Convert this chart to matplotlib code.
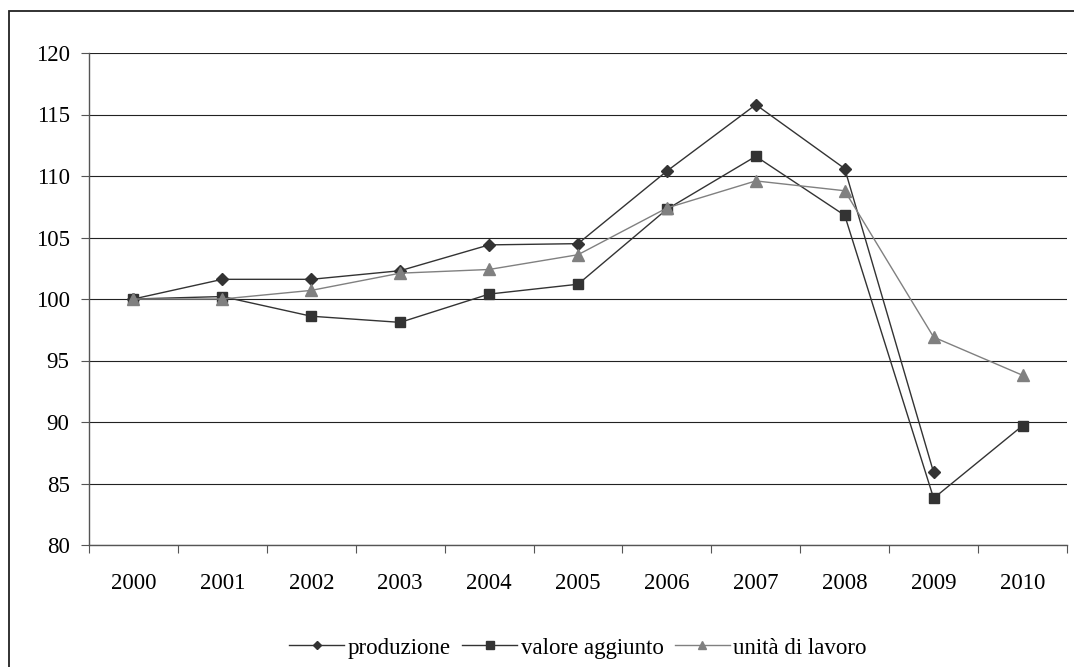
import numpy as np
import matplotlib
matplotlib.use("Agg")
import matplotlib.pyplot as plt
from matplotlib.patches import Rectangle

years = ["2000", "2001", "2002", "2003", "2004", "2005",
         "2006", "2007", "2008", "2009", "2010"]
produzione = [100.0, 101.6, 101.6, 102.3, 104.4, 104.5,
              110.4, 115.8, 110.6, 85.9, np.nan]
valore_aggiunto = [100.0, 100.2, 98.6, 98.1, 100.4, 101.2,
                   107.3, 111.6, 106.8, 83.8, 89.7]
unita_lavoro = [100.0, 100.0, 100.7, 102.1, 102.4, 103.6,
                107.4, 109.6, 108.8, 96.9, 93.8]
y_ticks = [80, 85, 90, 95, 100, 105, 110, 115, 120]

plt.rcParams["font.family"] = ["Liberation Serif", "DejaVu Serif"]

W, H = 1074, 667
fig = plt.figure(figsize=(W / 100, H / 100), dpi=100)

# outer frame (only top and left visible in the reference)
fig.patches.append(Rectangle((9 / W, -0.1), 1.2, 1 - 11 / H + 0.1,
                             transform=fig.transFigure, fill=False,
                             edgecolor="#222222", linewidth=1.3))

left, right, top, bottom = 89, 1067, 53, 545
ax = fig.add_axes([left / W, 1 - bottom / H, (right - left) / W,
                   (bottom - top) / H])

x = np.arange(len(years))
dark = "#333333"
grey = "#808080"
ax.plot(x, produzione, color=dark, lw=1.0, marker="D", ms=6,
        label="produzione")
ax.plot(x, valore_aggiunto, color=dark, lw=1.0, marker="s", ms=7,
        label="valore aggiunto")
ax.plot(x, unita_lavoro, color=grey, lw=1.0, marker="^", ms=8,
        label="unità di lavoro")

fs = 16.5
ax.set_xlim(-0.5, len(years) - 0.5)
ax.set_ylim(80, 120)
ax.set_yticks(y_ticks)
ax.set_yticklabels([str(v) for v in y_ticks], fontsize=fs)
ax.grid(axis="y", color="#222222", linewidth=0.8)
ax.set_axisbelow(True)

ax.set_xticks(np.arange(len(years) + 1) - 0.5)
ax.set_xticklabels([])
ax.set_xticks(x, minor=True)
ax.set_xticklabels(years, minor=True, fontsize=fs)
ax.tick_params(axis="x", which="major", length=6, direction="out",
               color="#555555")
ax.tick_params(axis="x", which="minor", length=0, pad=20)
ax.tick_params(axis="y", length=6, direction="out", color="#555555", pad=8)

for s in ["top", "right"]:
    ax.spines[s].set_visible(False)
for s in ["left", "bottom"]:
    ax.spines[s].set_color("#555555")
    ax.spines[s].set_linewidth(1.0)

fig.legend(loc="center", bbox_to_anchor=((left + right) / 2 / W,
                                         1 - 648 / H),
           ncol=3, frameon=False, fontsize=fs, handlelength=2.4,
           handletextpad=0.15, columnspacing=0.5, markerscale=0.75)

fig.savefig("out.png", dpi=100)
